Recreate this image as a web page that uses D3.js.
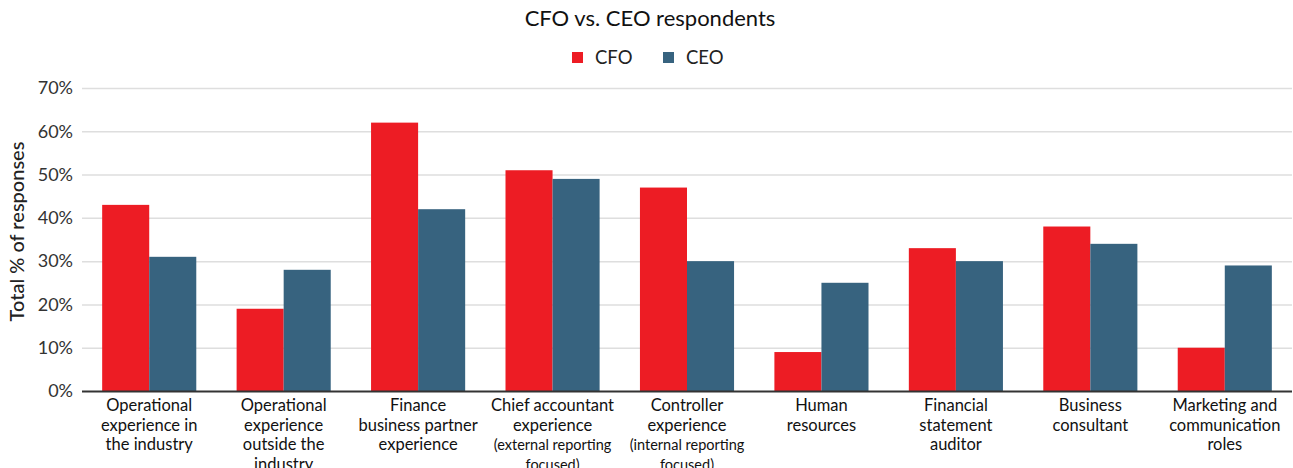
<!DOCTYPE html>
<html lang="en">
<head>
<meta charset="utf-8">
<title>CFO vs. CEO respondents</title>
<script src="https://cdn.jsdelivr.net/npm/d3@7"></script>
<style>
    body { margin: 0; background: white; font-family: Lato, "Noto Sans", sans-serif; }
    svg { display: block; }
    .grid line { stroke: #dedede; stroke-width: 1.5; }
    .grid path { display: none; }
    .yaxis text { font-size: 18px; fill: #333; }
    .cat { font-size: 16.5px; fill: #111; }
    .cat .small { font-size: 14.5px; }
</style>
</head>
<body>
<svg id="chart"></svg>
<script>
// data
var categories = [
    ["Operational", "experience in", "the industry"],
    ["Operational", "experience", "outside the", "industry"],
    ["Finance", "business partner", "experience"],
    ["Chief accountant", "experience", "(external reporting", "focused)"],
    ["Controller", "experience", "(internal reporting", "focused)"],
    ["Human", "resources"],
    ["Financial", "statement", "auditor"],
    ["Business", "consultant"],
    ["Marketing and", "communication", "roles"]
];
var series = ["CFO", "CEO"];
var cfoValues = [43, 19, 62, 51, 47, 9, 33, 38, 10];
var ceoValues = [31, 28, 42, 49, 30, 25, 30, 34, 29];
var yTicks = [0, 10, 20, 30, 40, 50, 60, 70];

var width = 1293, height = 468;
var margin = {top: 88, right: 1, bottom: 77, left: 82};
var w = width - margin.left - margin.right;
var h = height - margin.top - margin.bottom;

var color = d3.scaleOrdinal().domain(series).range(["#ed1c24", "#37637f"]);

var svg = d3.select("#chart").attr("width", width).attr("height", height);
var g = svg.append("g").attr("transform", "translate(" + margin.left + "," + margin.top + ")");

var x0 = d3.scaleBand()
    .domain(d3.range(categories.length))
    .range([0, w])
    .paddingInner(0.3)
    .paddingOuter(0.15);
var x1 = d3.scaleBand().domain(series).range([0, x0.bandwidth()]);
var y = d3.scaleLinear().domain([0, 70]).range([h, 0]);

// gridlines
g.append("g")
    .attr("class", "grid")
    .call(d3.axisLeft(y).tickValues(yTicks.slice(1)).tickSize(-w).tickFormat(""));

// y tick labels
g.append("g")
    .attr("class", "yaxis")
    .call(d3.axisLeft(y).tickValues(yTicks).tickSize(0).tickPadding(9).tickFormat(function(d) { return d + "%"; }))
    .call(function(a) { a.select(".domain").remove(); a.selectAll("text").attr("font-family", "Lato, sans-serif"); });

// bars
var rows = categories.map(function(c, i) { return {i: i, CFO: cfoValues[i], CEO: ceoValues[i]}; });
g.selectAll(".group")
    .data(rows)
    .enter().append("g")
    .attr("class", "group")
    .attr("transform", function(d) { return "translate(" + x0(d.i) + ",0)"; })
    .selectAll("rect")
    .data(function(d) { return series.map(function(k) { return {key: k, value: d[k]}; }); })
    .enter().append("rect")
    .attr("x", function(d) { return x1(d.key); })
    .attr("y", function(d) { return y(d.value); })
    .attr("width", x1.bandwidth())
    .attr("height", function(d) { return h - y(d.value); })
    .attr("fill", function(d) { return color(d.key); });

// baseline
g.append("line")
    .attr("x1", 0).attr("x2", w)
    .attr("y1", h + 0.5).attr("y2", h + 0.5)
    .attr("stroke", "#333").attr("stroke-width", 2);

// category labels
var cats = g.selectAll(".cat")
    .data(categories)
    .enter().append("text")
    .attr("class", "cat")
    .attr("text-anchor", "middle")
    .attr("transform", function(d, i) { return "translate(" + (x0(i) + x0.bandwidth() / 2) + "," + (h + 20) + ")"; });
cats.selectAll("tspan")
    .data(function(d) { return d; })
    .enter().append("tspan")
    .attr("x", 0)
    .attr("y", function(d, i) { return i * 19.5; })
    .attr("class", function(d) { return /^\(|^focused\)/.test(d) ? "small" : null; })
    .text(function(d) { return d; });

// y axis title
svg.append("text")
    .attr("transform", "translate(24," + (margin.top + h / 2 - 8) + ") rotate(-90)")
    .attr("text-anchor", "middle")
    .style("font-size", "20px")
    .style("font-weight", "500")
    .attr("fill", "#222")
    .text("Total % of responses");

// title
svg.append("text")
    .attr("x", 650).attr("y", 26)
    .attr("text-anchor", "middle")
    .style("font-size", "22px")
    .attr("fill", "#111")
    .text("CFO vs. CEO respondents");

// legend
var legend = svg.selectAll(".legend")
    .data(series)
    .enter().append("g")
    .attr("class", "legend")
    .attr("transform", function(d, i) { return "translate(" + (572 + i * 91) + ",52)"; });
legend.append("rect")
    .attr("width", 11).attr("height", 11)
    .attr("fill", color);
legend.append("text")
    .attr("x", 23).attr("y", 12)
    .style("font-size", "18.5px")
    .attr("fill", "#222")
    .text(function(d) { return d; });
</script>
</body>
</html>
